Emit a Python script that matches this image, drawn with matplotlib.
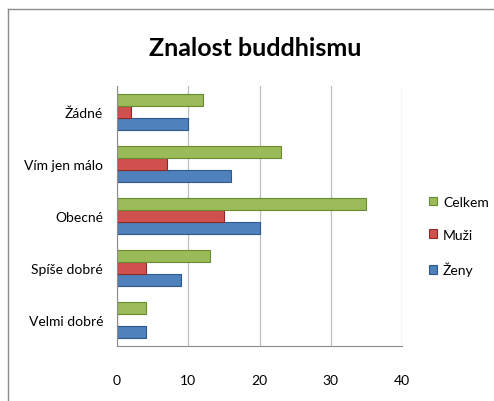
import matplotlib
matplotlib.use("Agg")
import matplotlib.pyplot as plt
import numpy as np
from matplotlib.lines import Line2D

categories = ["Velmi dobré", "Spíše dobré", "Obecné", "Vím jen málo", "Žádné"]
zeny = [4, 9, 20, 16, 10]
muzi = [0, 4, 15, 7, 2]
celkem = [4, 13, 35, 23, 12]
xticks = [0, 10, 20, 30, 40]

plt.rcParams['font.family'] = ['Lato', 'DejaVu Sans']

fig = plt.figure(figsize=(4.94, 4.02), dpi=100)
ax = fig.add_axes([117/494, 1-347/402, (402-117)/494, (347-87)/402])

y = np.arange(len(categories))
h = 0.225
series = [(zeny, "Ženy", "#4F81BD", "#2C5A8E", -h),
          (muzi, "Muži", "#D0504D", "#8E2B28", 0),
          (celkem, "Celkem", "#9BBB59", "#6A8A30", h)]
handles = []
for vals, name, col, ec, off in series:
    b = ax.barh(y + off, vals, height=h, color=col, edgecolor=ec, linewidth=0.8, label=name)
    handles.append(b)

ax.set_ylim(-0.5, len(categories)-0.5)
ax.set_xlim(0, 40)
ax.set_xticks(xticks)
ax.set_yticks(y)
ax.set_yticklabels(categories, fontsize=10)
ax.tick_params(axis='x', length=0, pad=20, labelsize=10)
ax.tick_params(axis='y', length=0, pad=10)
ax.grid(axis='x', color='#BFBFBF', linewidth=0.9)
ax.set_axisbelow(True)
for s in ['top', 'right']:
    ax.spines[s].set_visible(False)
ax.spines['left'].set_color('#8C8C8C')
ax.spines['bottom'].set_color('#8C8C8C')

fig.text(255/494, 1-48/402, "Znalost buddhismu", ha='center', va='center',
         fontsize=18, fontweight='bold')

leg = fig.legend(handles[::-1], ["Celkem", "Muži", "Ženy"], loc='center left',
                 bbox_to_anchor=(429/494, 1-237/402), frameon=False, fontsize=10,
                 handlelength=0.6, handleheight=0.6, labelspacing=1.5, handletextpad=0.4,
                 borderpad=0, borderaxespad=0)

fig.add_artist(Line2D([8/494, 8/494], [0, 1-10/402], color='#8C8C8C', lw=1, transform=fig.transFigure))
fig.add_artist(Line2D([8/494, 1], [1-10/402, 1-10/402], color='#8C8C8C', lw=1, transform=fig.transFigure))

fig.savefig("out.png", dpi=100)
